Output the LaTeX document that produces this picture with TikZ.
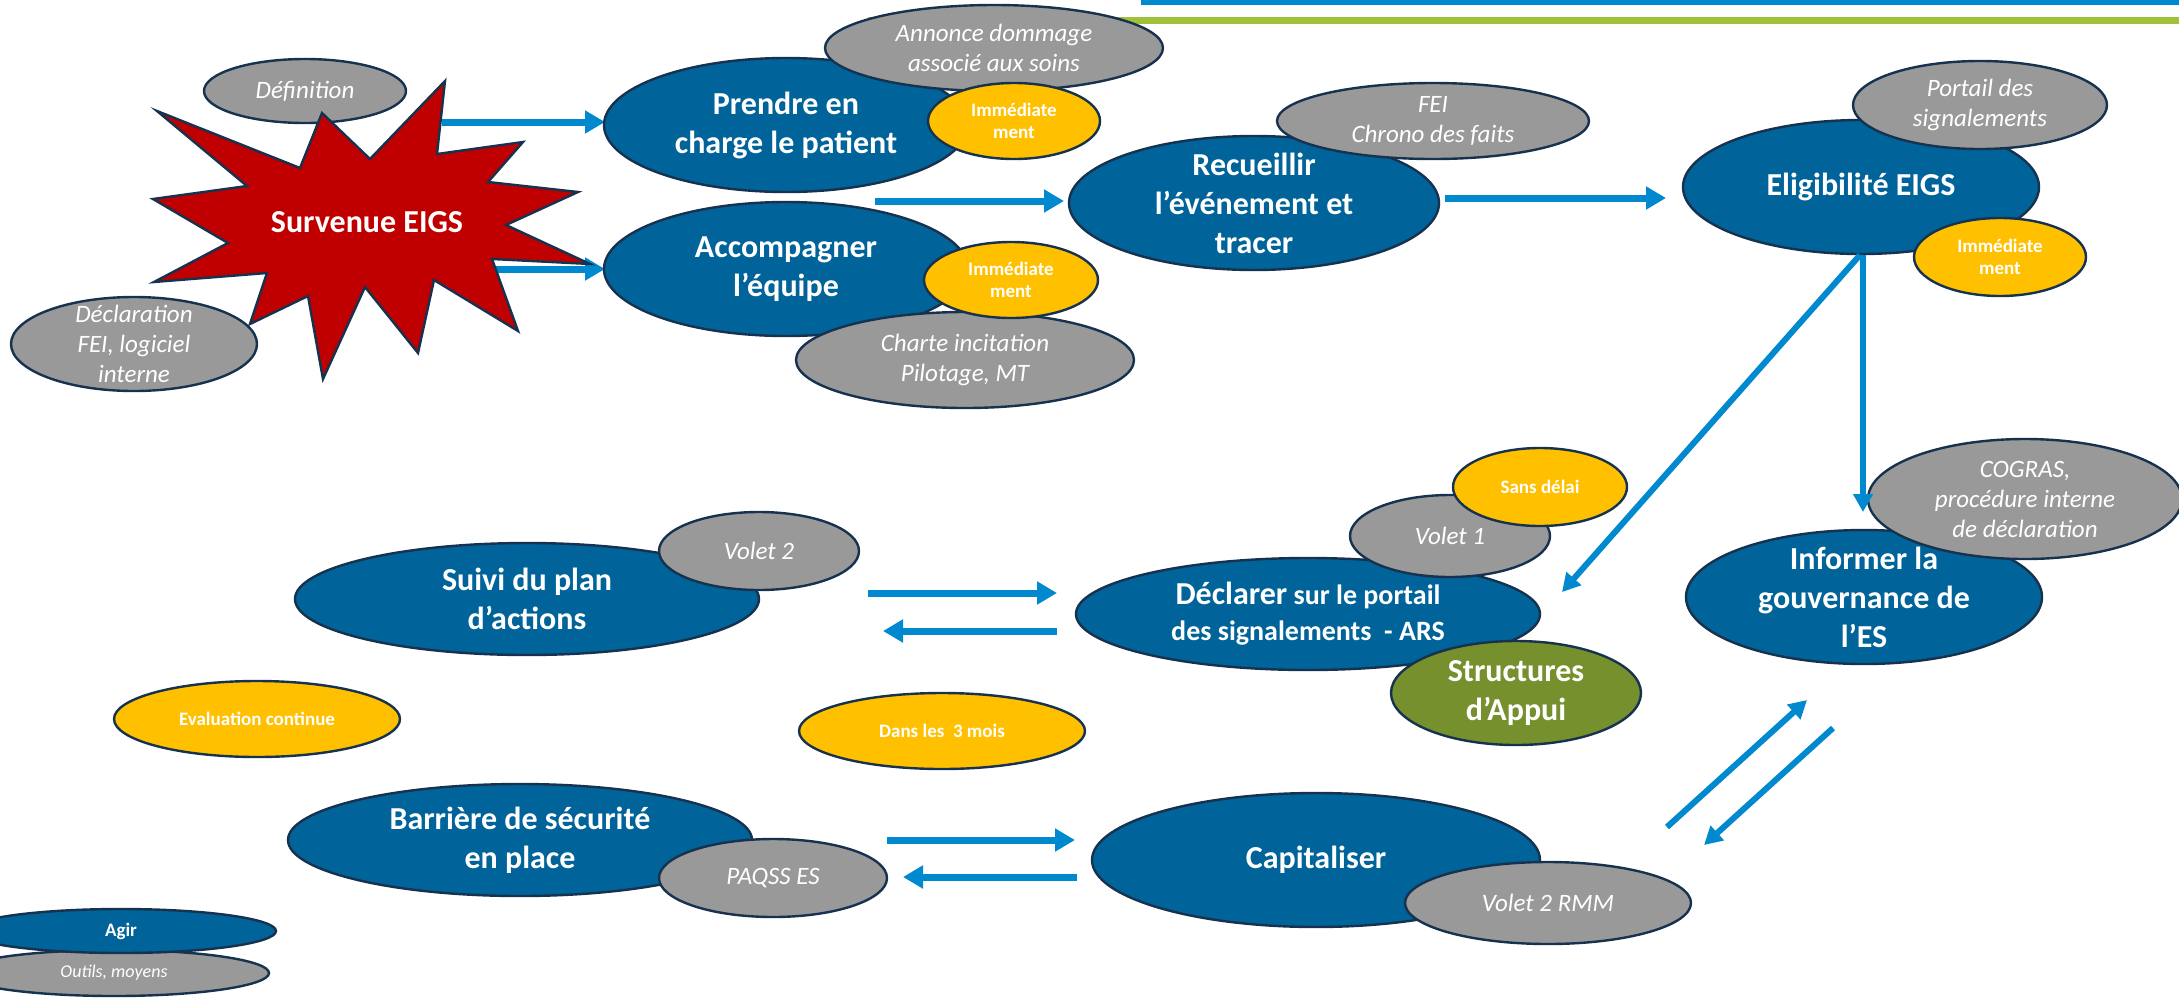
\documentclass[tikz,border=0pt]{standalone}
\usepackage{fontspec}
\setmainfont{Carlito}
\usetikzlibrary{arrows.meta,shapes.geometric}

\definecolor{bluefill}{RGB}{0,99,153}
\definecolor{edgenavy}{RGB}{22,50,79}
\definecolor{grayfill}{RGB}{153,153,153}
\definecolor{yellowfill}{RGB}{255,192,0}
\definecolor{greenfill}{RGB}{119,144,46}
\definecolor{redfill}{RGB}{192,0,0}
\definecolor{arrowblue}{RGB}{0,137,207}
\definecolor{linegreen}{RGB}{160,194,58}

\tikzset{
  x=0.5pt, y=-0.5pt,
  ell/.style={ellipse, draw=edgenavy, line width=1.2pt, inner sep=0pt, outer sep=0pt},
  radii/.style 2 args={minimum width=#1pt, minimum height=#2pt},
  blueell/.style={ell, fill=bluefill},
  grayell/.style={ell, fill=grayfill},
  yellell/.style={ell, fill=yellowfill},
  greenell/.style={ell, fill=greenfill},
  big/.style={text=white, align=center, inner sep=0pt, font=\fontsize{16}{19.5}\selectfont\bfseries},
  mid/.style={text=white, align=center, inner sep=0pt, font=\fontsize{14}{18}\selectfont\bfseries},
  note/.style={text=white, align=center, inner sep=0pt, font=\fontsize{12.5}{15}\selectfont\itshape},
  small/.style={text=white, align=center, inner sep=0pt, font=\fontsize{9.5}{11}\selectfont\bfseries},
  smallnote/.style={text=white, align=center, inner sep=0pt, font=\fontsize{9}{11}\selectfont\itshape},
  flow/.style={draw=arrowblue, line width=3.5pt, -{Triangle[length=10pt,width=11pt]}},
  slimflow/.style={draw=arrowblue, line width=3pt, -{Triangle[length=9pt,width=9.5pt]}},
  burst/.style={draw=edgenavy, line width=1.2pt, fill=redfill, line join=miter},
}

\begin{document}
\begin{tikzpicture}
\useasboundingbox (0,0) rectangle (2179,997);

% header rules
\coordinate (hb1) at (1141,2);   \coordinate (hb2) at (2179,2);
\coordinate (hg1) at (868,20.5); \coordinate (hg2) at (2179,20.5);
\draw[arrowblue, line width=2.5pt] (hb1) -- (hb2);
\draw[linegreen, line width=3.5pt] (hg1) -- (hg2);

% arrows leaving the burst (drawn under it)
\coordinate (a1s) at (442,122); \coordinate (a1e) at (605,122);
\coordinate (a2s) at (470,269); \coordinate (a2e) at (605,269);
\draw[flow] (a1s) -- (a1e);
\draw[flow] (a2s) -- (a2e);

% burst and its notes
\node[grayell, radii={101}{32}, label={[note]center:{Définition}}] (defi) at (305,91) {};
\draw[burst] (445,81) -- (437,154) -- (523,142) -- (488,182) -- (578,192) -- (506,225)
  -- (590,264) -- (492,259) -- (518,331) -- (434,280) -- (418,353) -- (365,287)
  -- (323,379) -- (308,296) -- (250,324) -- (267,273) -- (154,282) -- (228,243)
  -- (153,199) -- (247,186) -- (157,111) -- (300,168) -- (322,113) -- (370,159) -- cycle;
\node[big] (survenue) at (367,222) {Survenue EIGS};
\node[grayell, radii={123}{47}, label={[note]center:{Déclaration\\FEI, logiciel\\interne}}] (decl) at (134,344) {};

% upper row
\node[blueell, radii={182}{67}, label={[big]center:{Prendre en\\charge le patient}}] (prendre) at (786,125) {};
\node[grayell, radii={169}{43}, label={[note]center:{Annonce dommage\\associé aux soins}}] (annonce) at (994,48) {};
\node[yellell, radii={86}{38}, label={[small]center:{Immédiate\\ment}}] (imma) at (1014,121) {};

\node[blueell, radii={182}{67}, label={[big]center:{Accompagner\\l’équipe}}] (accomp) at (786,269) {};
\node[grayell, radii={169}{48}, label={[note]center:{Charte incitation\\Pilotage, MT}}] (charte) at (965,360) {};
\node[yellell, radii={87}{38}, label={[small]center:{Immédiate\\ment}}] (immb) at (1011,280) {};

\node[blueell, radii={185}{67}, label={[big]center:{Recueillir\\l’événement et\\tracer}}] (recueil) at (1254,203) {};
\node[grayell, radii={156}{38}, label={[note]center:{FEI\\Chrono des faits}}] (fei) at (1433,121) {};

\node[blueell, radii={178}{67}, label={[big]center:{Eligibilité EIGS}}] (elig) at (1861,187) {};
\node[grayell, radii={127}{44}, label={[note]center:{Portail des\\signalements}}] (portail) at (1980,105) {};
\node[yellell, radii={86}{39}, label={[small]center:{Immédiate\\ment}}] (immc) at (2000,257) {};

% middle row
\node[blueell, radii={232}{56}, label={[big]center:{Suivi du plan\\d’actions}}] (suivi) at (527,599) {};
\node[grayell, radii={100}{39}, label={[note]center:{Volet 2}}] (voletb) at (759,551) {};

\node[blueell, radii={232}{56}, label={[mid]center:{{\fontsize{16}{18}\selectfont Déclarer} sur le portail\\des signalements~~- ARS}}] (declarer) at (1308,614) {};
\node[grayell, radii={100}{41}, label={[note]center:{Volet 1}}] (voleta) at (1450,536) {};
\node[yellell, radii={87}{39}, label={[small]center:{Sans délai}}] (sansdelai) at (1540,487) {};
\node[greenell, radii={125}{52}, label={[big]center:{Structures\\d’Appui}}] (appui) at (1516,693) {};

\node[blueell, radii={178}{67}, label={[big]center:{Informer la\\gouvernance de\\l’ES}}] (informer) at (1864,597) {};
\node[grayell, radii={157}{60}, label={[note]center:{COGRAS,\\procédure interne\\de déclaration}}] (cogras) at (2025,499) {};

\node[yellell, radii={143}{38}, label={[small]center:{Evaluation continue}}] (evalc) at (257,719) {};
\node[yellell, radii={143}{38}, label={[small]center:{Dans les~~3 mois}}] (troismois) at (942,731) {};

% lower row
\node[blueell, radii={232}{56}, label={[big]center:{Barrière de sécurité\\en place}}] (barriere) at (520,840) {};
\node[grayell, radii={114}{39}, label={[note]center:{PAQSS ES}}] (paqss) at (773,878) {};

\node[blueell, radii={224}{67}, label={[big]center:{Capitaliser}}] (capit) at (1316,860) {};
\node[grayell, radii={143}{41}, label={[note]center:{Volet 2 RMM}}] (voletrmm) at (1548,903) {};

% legend
\node[grayell, radii={155}{23}, label={[smallnote]center:{Outils, moyens}}] (outils) at (114,973) {};
\node[blueell, radii={155}{22}, label={[small]center:{Agir}}] (agir) at (121,931) {};

% flow between the steps
\coordinate (a3s) at (875,201);  \coordinate (a3e) at (1064,201);
\coordinate (a4s) at (1445,198); \coordinate (a4e) at (1666,198);
\coordinate (a5s) at (1860,255); \coordinate (a5e) at (1562,592);
\coordinate (a6s) at (1863,255); \coordinate (a6e) at (1863,512);
\coordinate (a7s) at (868,593);  \coordinate (a7e) at (1057,593);
\coordinate (a8s) at (1057,631); \coordinate (a8e) at (883,631);
\coordinate (a9s) at (887,840);  \coordinate (a9e) at (1075,840);
\coordinate (a10s) at (1077,877); \coordinate (a10e) at (903,877);
\coordinate (a11s) at (1667,827); \coordinate (a11e) at (1807,700);
\coordinate (a12s) at (1833,728); \coordinate (a12e) at (1704,845);

\draw[flow] (a3s) -- (a3e);
\draw[flow] (a4s) -- (a4e);
\draw[slimflow] (a5s) -- (a5e);
\draw[slimflow] (a6s) -- (a6e);
\draw[flow] (a7s) -- (a7e);
\draw[flow] (a8s) -- (a8e);
\draw[flow] (a9s) -- (a9e);
\draw[flow] (a10s) -- (a10e);
\draw[slimflow] (a11s) -- (a11e);
\draw[slimflow] (a12s) -- (a12e);
\end{tikzpicture}
\end{document}
